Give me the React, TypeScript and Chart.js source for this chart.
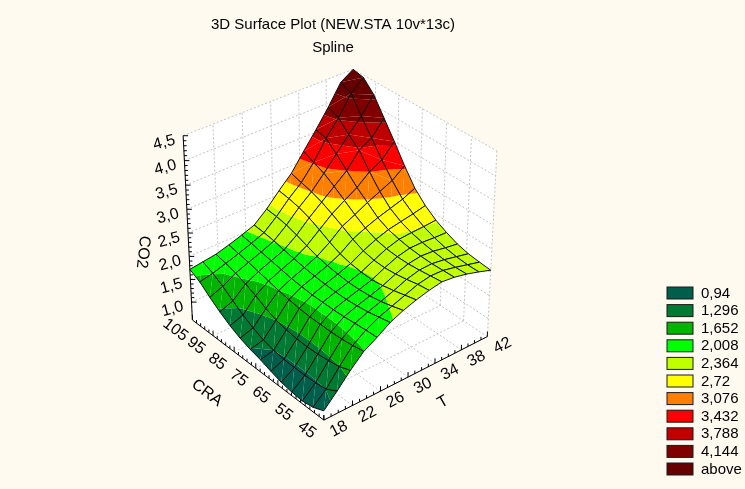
import React, { useEffect, useRef } from "react";
import { Chart, registerables } from "chart.js";

Chart.register(...registerables);

const titleLines = ["3D Surface Plot (NEW.STA 10v*13c)", "Spline"];
const tTicks = [18, 22, 26, 30, 34, 38, 42];
const craTicks = [45, 55, 65, 75, 85, 95, 105];
const co2Ticks = ["1,0", "1,5", "2,0", "2,5", "3,0", "3,5", "4,0", "4,5"];
const co2TickValues = [1, 1.5, 2, 2.5, 3, 3.5, 4, 4.5];
const legendLabels = ["0,94", "1,296", "1,652", "2,008", "2,364", "2,72", "3,076", "3,432", "3,788", "4,144", "above"];
const bandLimits = [0.94, 1.296, 1.652, 2.008, 2.364, 2.72, 3.076, 3.432, 3.788, 4.144, 99];
const bandColors = ["#005f4b", "#007a33", "#00b400", "#00ff00", "#bfff00", "#ffff00", "#ff8000", "#ff0000", "#bf0000", "#800000", "#660000"];

// CO2 over the T grid (18..42, 14 nodes), one list per CRA node (45..105, 14 nodes)
const co2Cra00 = [0.80, 1.08, 1.38, 1.64, 1.80, 1.98, 2.10, 2.19, 2.26, 2.31, 2.28, 2.22, 2.14, 2.05];
const co2Cra01 = [0.70, 0.95, 1.29, 1.60, 1.79, 1.93, 2.03, 2.13, 2.23, 2.28, 2.27, 2.21, 2.14, 2.07];
const co2Cra02 = [0.66, 0.91, 1.25, 1.57, 1.77, 1.88, 1.97, 2.07, 2.18, 2.25, 2.26, 2.22, 2.16, 2.10];
const co2Cra03 = [0.68, 0.90, 1.22, 1.56, 1.75, 1.85, 1.93, 2.02, 2.14, 2.23, 2.27, 2.25, 2.20, 2.16];
const co2Cra04 = [0.72, 0.90, 1.21, 1.56, 1.74, 1.83, 1.91, 1.99, 2.12, 2.23, 2.29, 2.29, 2.27, 2.26];
const co2Cra05 = [0.79, 0.91, 1.22, 1.56, 1.74, 1.83, 1.91, 2.00, 2.13, 2.25, 2.33, 2.35, 2.36, 2.38];
const co2Cra06 = [0.87, 0.94, 1.25, 1.58, 1.74, 1.84, 1.93, 2.03, 2.18, 2.30, 2.39, 2.44, 2.49, 2.55];
const co2Cra07 = [0.93, 1.00, 1.30, 1.61, 1.76, 1.86, 1.96, 2.09, 2.28, 2.40, 2.50, 2.58, 2.66, 2.78];
const co2Cra08 = [1.01, 1.10, 1.39, 1.65, 1.78, 1.89, 2.01, 2.19, 2.41, 2.54, 2.68, 2.80, 2.92, 3.12];
const co2Cra09 = [1.12, 1.22, 1.51, 1.70, 1.82, 1.93, 2.09, 2.31, 2.53, 2.70, 2.86, 3.08, 3.22, 3.50];
const co2Cra10 = [1.26, 1.37, 1.61, 1.75, 1.86, 1.97, 2.17, 2.42, 2.64, 2.86, 3.08, 3.40, 3.55, 3.86];
const co2Cra11 = [1.42, 1.53, 1.69, 1.80, 1.90, 2.02, 2.24, 2.50, 2.72, 3.00, 3.30, 3.60, 3.88, 4.22];
const co2Cra12 = [1.60, 1.66, 1.75, 1.84, 1.94, 2.05, 2.28, 2.55, 2.78, 3.10, 3.50, 3.82, 4.22, 4.45];
const co2Cra13 = [1.72, 1.76, 1.80, 1.88, 1.97, 2.07, 2.30, 2.58, 2.84, 3.20, 3.55, 3.92, 4.33, 4.50];
const co2Rows = [co2Cra00, co2Cra01, co2Cra02, co2Cra03, co2Cra04, co2Cra05, co2Cra06, co2Cra07, co2Cra08, co2Cra09, co2Cra10, co2Cra11, co2Cra12, co2Cra13];

const T_MIN = 18, T_MAX = 42, CRA_MIN = 45, CRA_MAX = 105, Z_MIN = 0.6, Z_MAX = 4.5;

// camera
const AZ = (39.5 * Math.PI) / 180, EL = (33 * Math.PI) / 180, DIST = 18, SCALE = 108, CX = 339, CY = 238.6, HZ = 1.02;
const depthOf = (t: number, c: number, z: number) => {
  const X = ((t - T_MIN) / (T_MAX - T_MIN)) * 2 - 1;
  const Y = ((c - CRA_MIN) / (CRA_MAX - CRA_MIN)) * 2 - 1;
  const Z = (((z - Z_MIN) / (Z_MAX - Z_MIN)) * 2 - 1) * HZ;
  const dr = X * Math.sin(AZ) + Y * Math.cos(AZ);
  return dr * Math.cos(EL) - Z * Math.sin(EL);
};
const project = (t: number, c: number, z: number) => {
  const X = ((t - T_MIN) / (T_MAX - T_MIN)) * 2 - 1;
  const Y = ((c - CRA_MIN) / (CRA_MAX - CRA_MIN)) * 2 - 1;
  const Z = (((z - Z_MIN) / (Z_MAX - Z_MIN)) * 2 - 1) * HZ;
  const xr = X * Math.cos(AZ) - Y * Math.sin(AZ);
  const dr = X * Math.sin(AZ) + Y * Math.cos(AZ);
  const yu = Z * Math.cos(EL) + dr * Math.sin(EL);
  const p = DIST / (DIST + depthOf(t, c, z));
  return { x: CX + SCALE * xr * p, y: CY - SCALE * yu * p };
};

type V = { t: number; c: number; z: number };
const clipBelow = (poly: V[], lim: number, keepBelow: boolean): V[] => {
  const out: V[] = [];
  for (let i = 0; i < poly.length; i++) {
    const a = poly[i], b = poly[(i + 1) % poly.length];
    const ina = keepBelow ? a.z <= lim : a.z >= lim;
    const inb = keepBelow ? b.z <= lim : b.z >= lim;
    if (ina) out.push(a);
    if (ina !== inb) {
      const f = (lim - a.z) / (b.z - a.z);
      out.push({ t: a.t + (b.t - a.t) * f, c: a.c + (b.c - a.c) * f, z: lim });
    }
  }
  return out;
};

const GAP = { x: NaN, y: NaN };
const buildDatasets = () => {
  const list: any[] = [];
  const polygon = (pts: { x: number; y: number }[], color: string) => ({
    data: [...pts, pts[0]], fill: "shape", backgroundColor: color, borderColor: "transparent", borderWidth: 0, pointRadius: 0, showLine: true,
  });
  const stroke = (pts: { x: number; y: number }[], color: string, width: number, dash: number[] = []) => ({
    data: pts, fill: false, borderColor: color, borderWidth: width, borderDash: dash, pointRadius: 0, showLine: true, spanGaps: false,
  });
  // walls
  const zl = Z_MIN, zh = Z_MAX, tl = T_MIN, th = T_MAX, cl = CRA_MIN, ch = CRA_MAX;
  list.push(polygon([project(tl, cl, zl), project(th, cl, zl), project(th, ch, zl), project(tl, ch, zl)], "#ffffff"));
  list.push(polygon([project(tl, ch, zl), project(th, ch, zl), project(th, ch, zh), project(tl, ch, zh)], "#ffffff"));
  list.push(polygon([project(th, cl, zl), project(th, ch, zl), project(th, ch, zh), project(th, cl, zh)], "#ffffff"));
  // dotted grid
  const grid: any[] = [];
  const seg = (a: any, b: any) => grid.push(a, b, GAP);
  for (const t of tTicks) {
    if (t > tl) seg(project(t, cl, zl), project(t, ch, zl));
    seg(project(t, ch, zl), project(t, ch, zh));
  }
  for (const c of craTicks) {
    if (c < ch) seg(project(tl, c, zl), project(th, c, zl));
    seg(project(th, c, zl), project(th, c, zh));
  }
  for (const z of [...co2TickValues]) {
    seg(project(tl, ch, z), project(th, ch, z));
    seg(project(th, ch, z), project(th, cl, z));
  }
  list.push(stroke(grid, "#c4c4c4", 1, [2, 2]));
  // axes and tick marks
  const axes: any[] = [];
  const line = (a: any, b: any) => axes.push(a, b, GAP);
  line(project(tl, cl, zl), project(th, cl, zl));
  line(project(tl, cl, zl), project(tl, ch, zl));
  line(project(tl, ch, zl), project(tl, ch, zh));
  for (let t = tl; t <= th; t += 1) {
    const a = project(t, cl, zl);
    line(a, { x: a.x, y: a.y - ((t - tl) % 4 === 0 ? 5 : 3) });
  }
  for (let c = cl; c <= ch; c += 2) {
    const a = project(tl, c, zl);
    line(a, { x: a.x, y: a.y - ((c - cl) % 10 === 0 ? 5 : 3) });
  }
  for (let i = 0; i <= 35; i++) {
    const z = 1 + i * 0.1;
    const a = project(tl, ch, z);
    line(a, { x: a.x + (i % 5 === 0 ? 5 : 3), y: a.y });
  }
  list.push(stroke(axes, "#000000", 1));
  // surface, painted far to near
  const n = co2Rows.length - 1;
  const tAt = (i: number) => T_MIN + ((T_MAX - T_MIN) * i) / n;
  const cAt = (j: number) => CRA_MIN + ((CRA_MAX - CRA_MIN) * j) / n;
  const vert = (i: number, j: number): V => ({ t: tAt(i), c: cAt(j), z: co2Rows[j][i] });
  const cells: { i: number; j: number; d: number }[] = [];
  for (let j = 0; j < n; j++) for (let i = 0; i < n; i++) {
    cells.push({ i, j, d: depthOf((tAt(i) + tAt(i + 1)) / 2, (cAt(j) + cAt(j + 1)) / 2, (co2Rows[j][i] + co2Rows[j + 1][i + 1]) / 2) });
  }
  cells.sort((a, b) => b.d - a.d);
  for (const { i, j } of cells) {
    const a = vert(i, j), b = vert(i + 1, j), c = vert(i + 1, j + 1), d = vert(i, j + 1);
    const high = (a.z + b.z + c.z + d.z) / 4 > 2.9;
    const tris = high ? [[a, b, d], [b, c, d]] : [[a, b, c], [a, c, d]];
    for (const tri of tris) {
      let lo = -99;
      bandLimits.forEach((hi, k) => {
        let poly: V[] = clipBelow(tri, hi, true);
        if (poly.length) poly = clipBelow(poly, lo, false);
        if (poly.length >= 3) list.push(polygon(poly.map((v) => project(v.t, v.c, v.z)), bandColors[k]));
        lo = hi;
      });
    }
    const outline = [a, b, c, d, a].map((v) => project(v.t, v.c, v.z));
    list.push(stroke(outline, "#101010", 1));
  }
  return list.map((ds, idx) => ({ ...ds, order: list.length - idx }));
};

const FONT = '"Liberation Sans", Arial, sans-serif';
const labelsPlugin = {
  id: "labels3d",
  beforeDraw(chart: any) {
    const { ctx, width, height } = chart;
    ctx.save();
    ctx.fillStyle = "#fffaf0";
    ctx.fillRect(0, 0, width, height);
    ctx.restore();
  },
  afterDraw(chart: any) {
    const { ctx, scales } = chart;
    const pix = (p: { x: number; y: number }) => ({ x: scales.x.getPixelForValue(p.x), y: scales.y.getPixelForValue(p.y) });
    const text = (s: string, x: number, y: number, deg: number, size = 16) => {
      ctx.save();
      ctx.translate(x, y);
      ctx.rotate((deg * Math.PI) / 180);
      ctx.font = `${size}px ${FONT}`;
      ctx.fillStyle = "#000";
      ctx.textAlign = "center";
      ctx.textBaseline = "middle";
      ctx.fillText(s, 0, 0);
      ctx.restore();
    };
    text(titleLines[0], 333, 25, 0, 15);
    text(titleLines[1], 333, 48, 0, 15);
    tTicks.forEach((t) => {
      const a = pix(project(t, CRA_MIN, Z_MIN));
      text(String(t), a.x + 15, a.y + 9, -27);
    });
    craTicks.forEach((c) => {
      const a = pix(project(T_MIN, c, Z_MIN));
      text(String(c), a.x - 17, a.y + 10, 37);
    });
    co2TickValues.forEach((z, k) => {
      const a = pix(project(T_MIN, CRA_MAX, z));
      text(co2Ticks[k], a.x - 19, a.y + 7, -15);
    });
    text("T", 443, 402, -30);
    text("CRA", 207, 393, 37);
    text("CO2", 143, 252, 96);
    // legend
    legendLabels.forEach((lab, k) => {
      const top = scales.y.getPixelForValue(287 + k * 17.6);
      ctx.fillStyle = bandColors[k];
      ctx.strokeStyle = "#1a1a1a";
      ctx.lineWidth = 1;
      ctx.fillRect(667, top, 26, 12);
      ctx.strokeRect(667, top, 26, 12);
      ctx.font = `15px ${FONT}`;
      ctx.fillStyle = "#000";
      ctx.textAlign = "left";
      ctx.textBaseline = "middle";
      ctx.fillText(lab, 701, top + 6.5);
    });
  },
};

export default function App() {
  const ref = useRef<HTMLCanvasElement | null>(null);
  useEffect(() => {
    document.body.style.margin = "0";
    document.body.style.background = "#fffaf0";
    const chart = new Chart(ref.current as HTMLCanvasElement, {
      type: "scatter",
      data: { datasets: buildDatasets() },
      options: {
        animation: false,
        responsive: false,
        events: [],
        layout: { padding: 0 },
        scales: {
          x: { type: "linear", min: 0, max: 745, display: false },
          y: { type: "linear", min: 0, max: 489, reverse: true, display: false },
        },
        plugins: { legend: { display: false }, tooltip: { enabled: false }, title: { display: false } },
      },
      plugins: [labelsPlugin],
    } as any);
    return () => chart.destroy();
  }, []);
  return <canvas ref={ref} width={745} height={489} style={{ display: "block" }} />;
}
